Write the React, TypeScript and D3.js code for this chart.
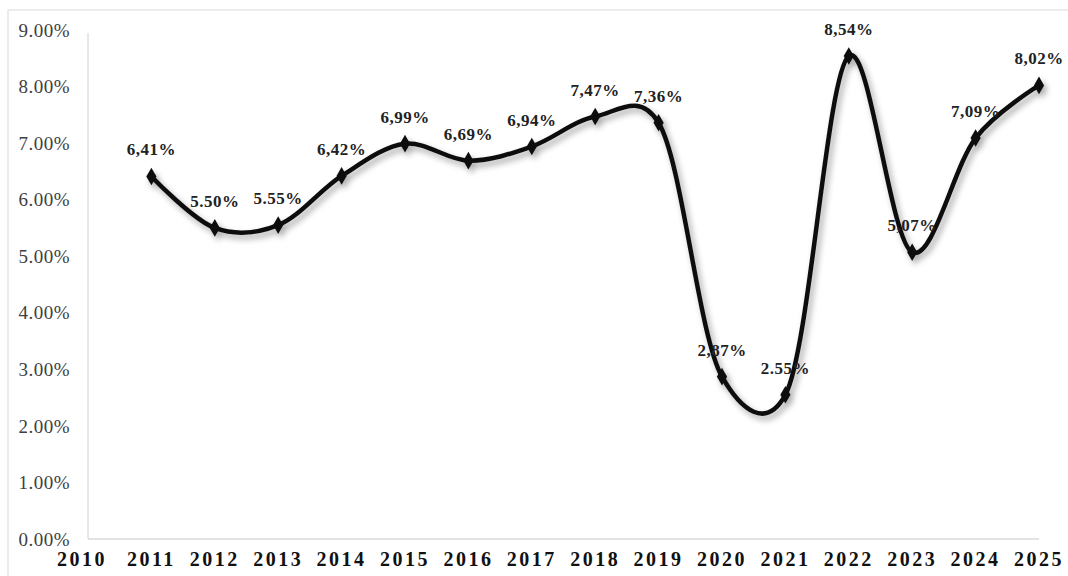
import React, { useEffect, useRef } from 'react';
import * as d3 from 'd3';

// data
const years = [2011, 2012, 2013, 2014, 2015, 2016, 2017, 2018, 2019, 2020, 2021, 2022, 2023, 2024, 2025];
const rates = [6.41, 5.5, 5.55, 6.42, 6.99, 6.69, 6.94, 7.47, 7.36, 2.87, 2.55, 8.54, 5.07, 7.09, 8.02];
const rateLabels = ['6,41%', '5.50%', '5.55%', '6,42%', '6,99%', '6,69%', '6,94%', '7,47%', '7,36%', '2,87%', '2.55%', '8,54%', '5,07%', '7,09%', '8,02%'];
const axisYears = [2010, 2011, 2012, 2013, 2014, 2015, 2016, 2017, 2018, 2019, 2020, 2021, 2022, 2023, 2024, 2025];
const yTicks = [0, 1, 2, 3, 4, 5, 6, 7, 8, 9];

const App = () => {
  const svgRef = useRef<SVGSVGElement>(null);

  useEffect(() => {
    const svg = d3.select(svgRef.current);
    svg.selectAll('*').remove();

    const width = 1068;
    const height = 576;
    const font = '"Liberation Serif", "Times New Roman", serif';

    const x = d3.scaleLinear().domain([2010, 2025]).range([88, 1039]);
    const y = d3.scaleLinear().domain([0, 9]).range([539, 30]);

    // soft shadow under the line, like the Excel effect
    const defs = svg.append('defs');
    const filter = defs.append('filter').attr('id', 'shadow').attr('x', '-10%').attr('y', '-10%').attr('width', '120%').attr('height', '120%');
    filter.append('feDropShadow')
      .attr('dx', 3)
      .attr('dy', 4)
      .attr('stdDeviation', 3)
      .attr('flood-color', '#000')
      .attr('flood-opacity', 0.35);

    svg.append('rect').attr('width', width).attr('height', height).attr('fill', '#fff');

    // outer chart border
    svg.append('rect')
      .attr('x', 8).attr('y', 10)
      .attr('width', 1100).attr('height', 620)
      .attr('fill', 'none')
      .attr('stroke', '#d9d9d9')
      .attr('stroke-width', 1);

    // axes lines
    svg.append('line')
      .attr('x1', x(2010)).attr('x2', x(2010))
      .attr('y1', y(9) + 3).attr('y2', y(0))
      .attr('stroke', '#d0d0d0');
    svg.append('line')
      .attr('x1', x(2010)).attr('x2', x(2025))
      .attr('y1', y(0)).attr('y2', y(0))
      .attr('stroke', '#c8c8c8');

    // y tick labels
    svg.append('g')
      .selectAll('text')
      .data(yTicks)
      .join('text')
      .attr('x', 70)
      .attr('y', d => y(d))
      .attr('dy', '0.35em')
      .attr('text-anchor', 'end')
      .attr('fill', '#404040')
      .style('font-family', font)
      .style('font-size', '19px')
      .style('letter-spacing', '0.5px')
      .text(d => `${d.toFixed(2)}%`);

    // x labels
    svg.append('g')
      .selectAll('text')
      .data(axisYears)
      .join('text')
      .attr('x', d => x(d) - (d === 2010 ? 6 : 0))
      .attr('y', 566)
      .attr('text-anchor', 'middle')
      .attr('fill', '#111')
      .style('font-family', font)
      .style('font-size', '20px')
      .style('font-weight', 'bold')
      .style('letter-spacing', '2.5px')
      .text(d => d);

    const points = years.map((yr, i) => ({ yr, v: rates[i], label: rateLabels[i] }));

    const line = d3.line<{ yr: number; v: number }>()
      .x(d => x(d.yr))
      .y(d => y(d.v))
      .curve(d3.curveCatmullRom.alpha(0.15));

    const g = svg.append('g').attr('filter', 'url(#shadow)');
    g.append('path')
      .datum(points)
      .attr('d', line)
      .attr('fill', 'none')
      .attr('stroke', '#111')
      .attr('stroke-width', 4.5)
      .attr('stroke-linejoin', 'round');

    g.selectAll('path.marker')
      .data(points)
      .join('path')
      .attr('class', 'marker')
      .attr('transform', d => `translate(${x(d.yr)},${y(d.v)})`)
      .attr('d', d3.symbol().type(d3.symbolDiamond).size(90))
      .attr('fill', '#111');

    // value labels
    svg.append('g')
      .selectAll('text')
      .data(points)
      .join('text')
      .attr('x', d => x(d.yr))
      .attr('y', d => y(d.v) - 21)
      .attr('text-anchor', 'middle')
      .attr('fill', '#222')
      .style('font-family', font)
      .style('font-size', '17px')
      .style('font-weight', 'bold')
      .style('letter-spacing', '0.5px')
      .text(d => d.label);
  }, []);

  return <svg ref={svgRef} width="1068" height="576" style={{ position: 'absolute', left: 0, top: 0 }}></svg>;
};

export default App;
